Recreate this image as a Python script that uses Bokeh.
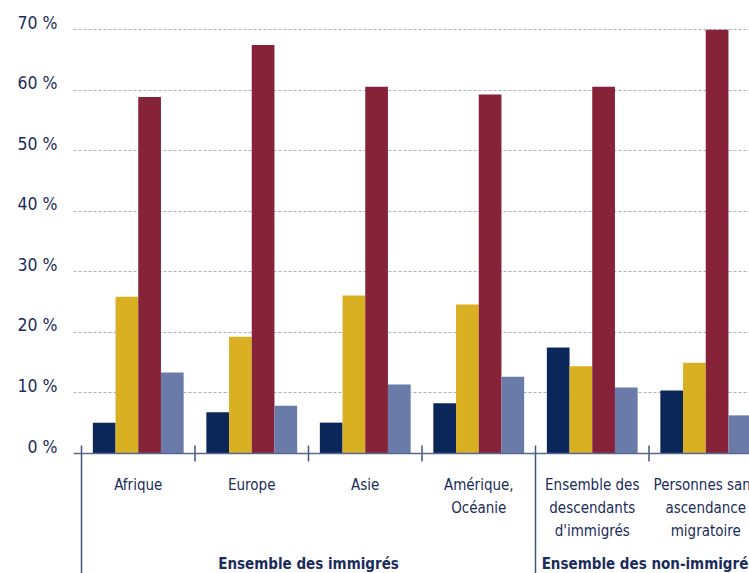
from bokeh.plotting import figure
from bokeh.models import Range1d, FixedTicker, Span, ColumnDataSource
from bokeh.embed import file_html
from bokeh.resources import INLINE
from bokeh.core.properties import value

# ---------------- data ----------------
categories = ["Afrique", "Europe", "Asie", "Amérique,\nOcéanie",
              "Ensemble des\ndescendants\nd'immigrés",
              "Personnes sans\nascendance\nmigratoire"]
groups = ["Ensemble des immigrés", "Ensemble des non-immigrés"]
group_starts = [0, 4]
group_ends = [4, 6]

series_1 = [5.1, 6.8, 5.1, 8.3, 17.5, 10.4]
series_2 = [25.9, 19.3, 26.1, 24.6, 14.4, 15.0]
series_3 = [58.9, 67.5, 60.6, 59.3, 60.6, 70.0]
series_4 = [13.4, 7.9, 11.4, 12.7, 10.9, 6.3]

y_ticks = [0, 10, 20, 30, 40, 50, 60, 70]
y_tick_labels = ["0 %", "10 %", "20 %", "30 %", "40 %", "50 %", "60 %", "70 %"]

# ---------------- style ----------------
colors = ["#0b2759", "#d9b021", "#862338", "#6b7ba9"]
text_color = "#1b2c5b"
font = "DejaVu Sans Condensed"
line_color = "#42557f"

W, H = 749, 573
px_per_unit = (453 - 29.3) / 70.0
px_per_cat = 113.5
frame_left = 73
cat0 = 81

p = figure(width=W, height=H, output_backend="svg", toolbar_location=None,
           x_axis_location=None,
           x_range=Range1d(-(cat0 - frame_left) / px_per_cat, (W - cat0) / px_per_cat),
           y_range=Range1d(-(H - 453) / px_per_unit, 453 / px_per_unit),
           min_border_left=frame_left, min_border_right=0, min_border_top=0, min_border_bottom=0)
p.outline_line_color = None
p.background_fill_color = "white"
p.xgrid.visible = False

# grid
p.ygrid.ticker = FixedTicker(ticks=[t for t in y_ticks if t > 0])
p.ygrid.grid_line_color = "#a9b1c7"
p.ygrid.grid_line_dash = "3 2"
p.ygrid.grid_line_width = 1

# y axis: labels sit on the grid line
off = 1.15
p.yaxis.ticker = FixedTicker(ticks=[t + off for t in y_ticks])
p.yaxis.major_label_overrides = {t + off: lab for t, lab in zip(y_ticks, y_tick_labels)}
p.yaxis.axis_line_color = None
p.yaxis.major_tick_line_color = None
p.yaxis.minor_tick_line_color = None
p.yaxis.major_tick_out = 0
p.yaxis.major_tick_in = 0
p.yaxis.major_label_standoff = 16
p.yaxis.major_label_text_font = font
p.yaxis.major_label_text_font_size = "17.5px"
p.yaxis.major_label_text_color = text_color

# bars
n = len(categories)
offsets = [-0.3, -0.1, 0.1, 0.3]
for s, vals, col in zip(range(4), [series_1, series_2, series_3, series_4], colors):
    src = ColumnDataSource(dict(x=[i + 0.5 + offsets[s] for i in range(n)], top=vals))
    p.vbar(x="x", top="top", bottom=0, width=0.2, source=src,
           fill_color=col, line_color=None)

# zero line
p.add_layout(Span(location=0, dimension="width", line_color="#56688f", line_width=1.5))

# ticks and separators
tick_top = 8 / px_per_unit
tick_bot = -8 / px_per_unit
bottom = -(H - 453) / px_per_unit
short_x = [b for b in range(1, n) if b not in group_starts]
p.segment(x0=short_x, x1=short_x, y0=[tick_top] * len(short_x), y1=[tick_bot] * len(short_x),
          line_color=line_color, line_width=1.5)
p.segment(x0=group_starts, x1=group_starts, y0=[tick_top] * len(group_starts),
          y1=[bottom] * len(group_starts), line_color=line_color, line_width=1.5)

# category labels (one glyph per line)
lx, ly, lt = [], [], []
for i, c in enumerate(categories):
    for k, line in enumerate(c.split("\n")):
        lx.append(i + 0.5)
        ly.append(-(484 + 23 * k - 453) / px_per_unit)
        lt.append(line)
p.text(x=lx, y=ly, text=lt, text_align="center", text_baseline="alphabetic",
       text_font=value(font), text_font_size="15px", text_color=text_color)

# group labels
gx = [(a + b) / 2 for a, b in zip(group_starts, group_ends)]
p.text(x=gx, y=[-(563 - 453) / px_per_unit] * len(groups), text=groups,
       text_align="center", text_baseline="alphabetic",
       text_font=value(font), text_font_size="15px", text_font_style="bold",
       text_color=text_color)

open("out.html", "w").write(file_html(p, INLINE))
